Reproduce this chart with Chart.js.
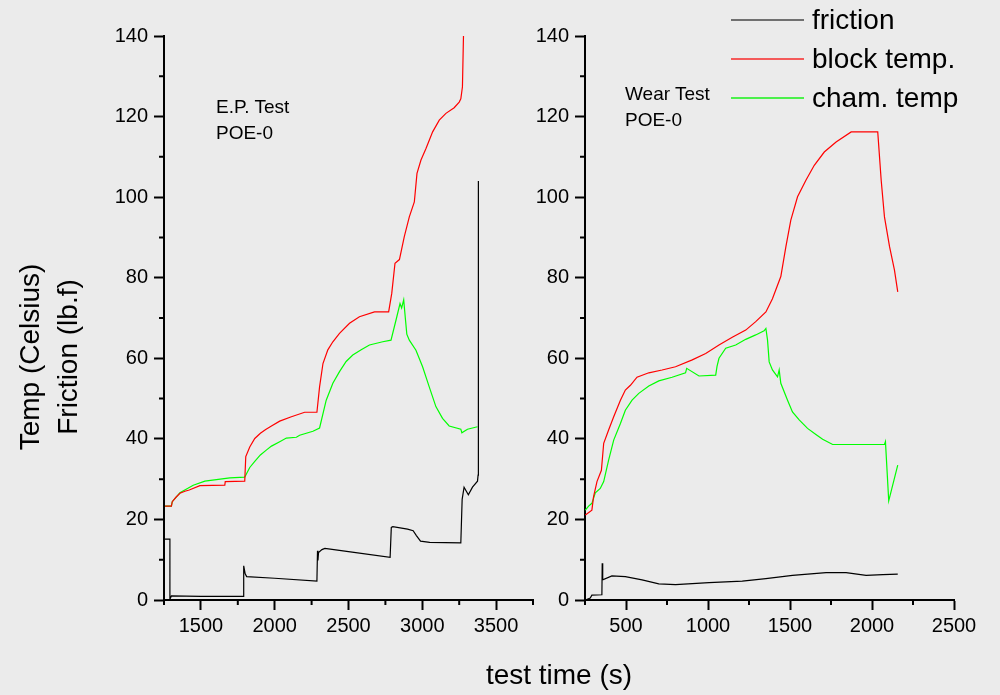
<!DOCTYPE html>
<html>
<head>
<meta charset="utf-8">
<script src="https://cdn.jsdelivr.net/npm/chart.js@4.4.1/dist/chart.umd.min.js"></script>
<style>
  body { margin: 0; background: #ebebeb; font-family: "Liberation Sans", Arial, sans-serif; color: #000; }
  #page { position: relative; width: 1000px; height: 695px; overflow: hidden; }
  canvas { position: absolute; top: 0; }
  .note { position: absolute; font-size: 19px; line-height: 26px; }
  #ytitle { position: absolute; left: -101px; top: 319px; width: 300px; height: 76px;
            font-size: 28px; line-height: 38px; text-align: center; transform: rotate(-90deg); }
  #xtitle { position: absolute; left: 409px; top: 658px; width: 300px; text-align: center;
            font-size: 28px; line-height: 34px; }
  #legend { position: absolute; left: 731px; top: 0px; }
  .row { display: flex; align-items: center; height: 39px; }
  .swatch { width: 73px; height: 2px; margin-right: 8px; }
  .row span { font-size: 28px; line-height: 39px; }
</style>
</head>
<body>
<div id="page">
  <canvas id="epChart" width="560" height="695" style="left:0"></canvas>
  <canvas id="wearChart" width="500" height="695" style="left:500px"></canvas>
  <div id="ytitle">Temp (Celsius)<br>Friction (lb.f)</div>
  <div id="xtitle">test time (s)</div>
  <div class="note" style="left:216px; top:94px">E.P. Test<br>POE-0</div>
  <div class="note" style="left:625px; top:81px">Wear Test<br>POE-0</div>
  <div id="legend">
    <div class="row"><div class="swatch" style="background:#707070"></div><span>friction</span></div>
    <div class="row"><div class="swatch" style="background:#f45a5a"></div><span>block temp.</span></div>
    <div class="row"><div class="swatch" style="background:#4cf04c"></div><span>cham. temp</span></div>
  </div>
</div>
<script>
// eixos
const yTicks = [0, 20, 40, 60, 80, 100, 120, 140];
const yMinor = [10, 30, 50, 70, 90, 110, 130];
const epTicksX = [1500, 2000, 2500, 3000, 3500];
const epMinorX = [1250, 1750, 2250, 2750, 3250, 3750];
const wearTicksX = [500, 1000, 1500, 2000, 2500];
const wearMinorX = [250, 750, 1250, 1750, 2250];

// E.P. Test - friction
const epFrictionT = [1255, 1290, 1290, 1300, 1500, 1788, 1790, 1800, 1810, 2000, 2286, 2290, 2293, 2297, 2320, 2340, 2500, 2782, 2790, 2800, 2900, 2938, 2960, 2988, 3050, 3261, 3270, 3283, 3312, 3340, 3374, 3378, 3380];
const epFrictionV = [15.1, 15.1, 0.2, 1.0, 0.9, 0.9, 8.5, 6.5, 5.8, 5.4, 4.7, 12.2, 9.8, 11.8, 12.5, 12.8, 12.0, 10.6, 18.0, 18.2, 17.6, 17.2, 16.0, 14.6, 14.3, 14.2, 25.0, 28.0, 26.1, 28.0, 29.5, 31.0, 104];
// E.P. Test - block temp.
const epBlockT = [1257, 1300, 1306, 1331, 1358, 1392, 1421, 1493, 1662, 1665, 1797, 1804, 1831, 1865, 1903, 1939, 1978, 2034, 2113, 2203, 2286, 2304, 2327, 2360, 2394, 2439, 2507, 2574, 2676, 2772, 2793, 2815, 2845, 2878, 2912, 2946, 2964, 2991, 3025, 3070, 3115, 3160, 3216, 3250, 3261, 3272, 3279];
const epBlockV = [23.3, 23.3, 24.4, 25.5, 26.5, 27.0, 27.3, 28.4, 28.5, 29.4, 29.5, 35.6, 38.0, 40.1, 41.4, 42.3, 43.2, 44.4, 45.5, 46.6, 46.6, 52.9, 58.7, 62.1, 64.1, 66.2, 68.7, 70.3, 71.5, 71.5, 76.1, 83.6, 84.5, 90.2, 95.1, 98.8, 105.9, 109.2, 112.1, 116.2, 119.1, 120.8, 122.2, 123.6, 124.4, 127.4, 140];
// E.P. Test - cham. temp
const epChamT = [1257, 1300, 1306, 1331, 1358, 1448, 1527, 1696, 1797, 1831, 1865, 1903, 1943, 1978, 2034, 2079, 2147, 2169, 2259, 2304, 2349, 2394, 2439, 2484, 2529, 2586, 2642, 2732, 2788, 2822, 2849, 2860, 2874, 2885, 2895, 2912, 2957, 3002, 3047, 3092, 3137, 3182, 3261, 3268, 3306, 3374];
const epChamV = [23.3, 23.3, 24.4, 25.5, 26.6, 28.5, 29.5, 30.3, 30.5, 32.9, 34.4, 36.0, 37.2, 38.2, 39.3, 40.2, 40.4, 40.9, 41.9, 42.7, 49.6, 53.8, 56.7, 59.2, 60.8, 62.1, 63.3, 64.1, 64.5, 69.5, 73.6, 72.5, 74.5, 70.0, 66.0, 64.5, 62.0, 57.9, 52.9, 48.0, 45.1, 43.2, 42.4, 41.5, 42.4, 43.0];

// Wear Test - friction
const wearFrictionT = [252, 282, 292, 353, 355, 358, 414, 496, 598, 700, 802, 1006, 1209, 1353, 1515, 1720, 1842, 1964, 2066, 2157];
const wearFrictionV = [0, 0.5, 1.2, 1.3, 9.1, 5.0, 6.0, 5.8, 5.0, 4.0, 3.8, 4.3, 4.7, 5.3, 6.1, 6.8, 6.8, 6.1, 6.3, 6.4];
// Wear Test - block temp.
const wearBlockT = [252, 292, 302, 323, 350, 364, 394, 425, 466, 496, 527, 567, 639, 720, 802, 904, 986, 1067, 1148, 1230, 1291, 1353, 1393, 1444, 1475, 1505, 1546, 1597, 1648, 1709, 1781, 1873, 2035, 2056, 2076, 2107, 2137, 2157];
const wearBlockV = [21.1, 22.3, 25.6, 29.4, 32.2, 38.9, 42.2, 45.5, 49.6, 52.1, 53.3, 55.3, 56.4, 57.1, 57.9, 59.6, 61.2, 63.3, 65.2, 67.0, 69.1, 71.5, 74.8, 80.3, 87.7, 94.3, 100.1, 104.2, 107.9, 111.2, 113.7, 116.2, 116.2, 104.2, 95.1, 87.7, 81.9, 76.5];
// Wear Test - cham. temp
const wearChamT = [252, 272, 292, 313, 343, 364, 394, 425, 466, 496, 537, 578, 639, 700, 781, 863, 870, 945, 1047, 1055, 1067, 1108, 1169, 1230, 1291, 1342, 1353, 1363, 1373, 1393, 1424, 1434, 1444, 1485, 1515, 1556, 1607, 1658, 1699, 1760, 2076, 2082, 2102, 2157];
const wearChamV = [22.3, 23.3, 24.0, 26.6, 27.7, 29.4, 34.7, 39.7, 43.8, 47.1, 49.6, 51.3, 53.1, 54.4, 55.3, 56.4, 57.5, 55.6, 55.8, 58.0, 60.0, 62.5, 63.3, 64.7, 65.8, 66.8, 67.4, 64.5, 59.1, 57.1, 55.4, 57.1, 53.8, 49.6, 46.7, 44.7, 42.6, 41.1, 39.9, 38.6, 38.6, 39.3, 24.6, 33.5];

function pontos(t, v) {
  return t.map((x, i) => ({ x: x, y: v[i] }));
}

// risquinhos menores dos eixos
const minorTicks = {
  id: 'minorTicks',
  afterDraw(chart, args, opts) {
    const ctx = chart.ctx;
    const sx = chart.scales.x, sy = chart.scales.y;
    ctx.save();
    ctx.strokeStyle = '#000';
    ctx.lineWidth = 2;
    ctx.beginPath();
    opts.x.forEach(v => {
      const p = sx.getPixelForValue(v);
      ctx.moveTo(p, sx.top);
      ctx.lineTo(p, sx.top + 5);
    });
    opts.y.forEach(v => {
      const p = sy.getPixelForValue(v);
      ctx.moveTo(sy.right, p);
      ctx.lineTo(sy.right - 5, p);
    });
    ctx.stroke();
    ctx.restore();
  }
};

function serie(label, t, v, cor) {
  return {
    label: label,
    data: pontos(t, v),
    borderColor: cor,
    borderWidth: 1.2,
    pointRadius: 0,
    fill: false,
    tension: 0
  };
}

function criarGrafico(id, series, xMin, xMax, ticksX, minorX, yWidth, padRight) {
  const eixo = {
    grid: { display: true, drawOnChartArea: false, tickLength: 10, tickColor: '#000', tickWidth: 2 },
    border: { display: true, color: '#000', width: 2 }
  };
  return new Chart(document.getElementById(id), {
    type: 'line',
    data: { datasets: series },
    plugins: [minorTicks],
    options: {
      responsive: false,
      animation: false,
      devicePixelRatio: 1,
      layout: { padding: { left: 0, top: 36, right: padRight, bottom: 55 } },
      scales: {
        x: {
          type: 'linear',
          min: xMin,
          max: xMax,
          ...eixo,
          afterBuildTicks: s => { s.ticks = ticksX.map(v => ({ value: v })); },
          afterFit: s => { s.height = 40; },
          ticks: { color: '#000', padding: 4, font: { family: 'Liberation Sans', size: 20 }, callback: v => String(v) }
        },
        y: {
          type: 'linear',
          min: 0,
          max: 140,
          ...eixo,
          afterBuildTicks: s => { s.ticks = yTicks.map(v => ({ value: v })); },
          afterFit: s => { s.width = yWidth; },
          ticks: { color: '#000', padding: 6, font: { family: 'Liberation Sans', size: 20 }, callback: v => String(v) }
        }
      },
      plugins: {
        legend: { display: false },
        tooltip: { enabled: false },
        minorTicks: { x: minorX, y: yMinor }
      }
    }
  });
}

criarGrafico('epChart', [
  serie('friction', epFrictionT, epFrictionV, '#000000'),
  serie('block temp.', epBlockT, epBlockV, '#ff0000'),
  serie('cham. temp', epChamT, epChamV, '#00ff00')
], 1250, 3750, epTicksX, epMinorX, 164, 27);

criarGrafico('wearChart', [
  serie('friction', wearFrictionT, wearFrictionV, '#000000'),
  serie('block temp.', wearBlockT, wearBlockV, '#ff0000'),
  serie('cham. temp', wearChamT, wearChamV, '#00ff00')
], 250, 2500, wearTicksX, wearMinorX, 85, 46);
</script>
</body>
</html>
